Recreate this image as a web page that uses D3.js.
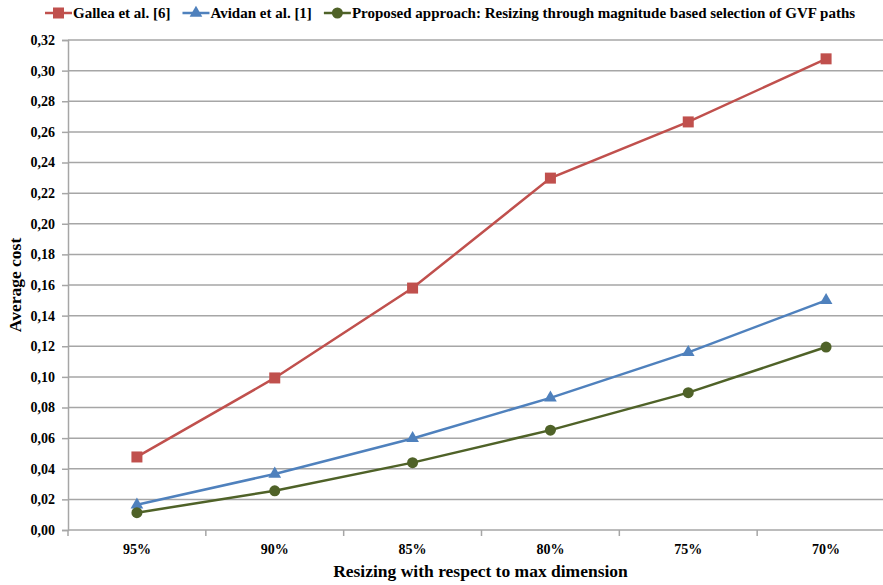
<!DOCTYPE html>
<html>
<head>
<meta charset="utf-8">
<script src="https://cdn.jsdelivr.net/npm/d3@7"></script>
<style>
  html, body { margin: 0; padding: 0; background: #fff; }
  svg { display: block; }
</style>
</head>
<body>
<svg id="chart" width="883" height="585"></svg>
<script>
// Resize ratios along the horizontal axis
const categories = ["95%", "90%", "85%", "80%", "75%", "70%"];

// Average cost per method
const gallea   = [0.0477, 0.0993, 0.1580, 0.2298, 0.2665, 0.3077];
const avidan   = [0.0165, 0.0366, 0.0598, 0.0863, 0.1160, 0.1500];
const proposed = [0.0113, 0.0256, 0.0440, 0.0652, 0.0897, 0.1195];

const yTicks = [0, 0.02, 0.04, 0.06, 0.08, 0.10, 0.12, 0.14, 0.16, 0.18, 0.20, 0.22, 0.24, 0.26, 0.28, 0.30, 0.32];

const seriesNames = ["Gallea et al. [6]", "Avidan et al. [1]", "Proposed approach: Resizing through magnitude based selection of GVF paths"];

const series = [
  { name: seriesNames[0], values: gallea,   color: "#C0504D", marker: "square" },
  { name: seriesNames[1], values: avidan,   color: "#4F81BD", marker: "triangle" },
  { name: seriesNames[2], values: proposed, color: "#4F6228", marker: "circle" }
];

const FONT = "Liberation Serif";
const GRID = "#A6A6A6";

// every label uses the same bold serif face
function styleText(sel, size) {
  return sel.attr("font-family", FONT)
    .attr("font-weight", "bold")
    .attr("font-size", size)
    .attr("fill", "#000");
}

const svg = d3.select("#chart");

// the plot runs slightly past the right edge of the canvas
const plotLeft = 68, plotRight = 895;
const plotTop = 40, plotBottom = 530;

const x = d3.scaleBand().domain(categories).range([plotLeft, plotRight]);
const y = d3.scaleLinear().domain([0, 0.32]).range([plotBottom, plotTop]);

const fmt = v => d3.format(".2f")(v).replace(".", ",");

// Horizontal gridlines
svg.append("g")
  .selectAll("line")
  .data(yTicks.filter(d => d > 0))
  .join("line")
  .attr("x1", plotLeft).attr("x2", plotRight)
  .attr("y1", d => y(d)).attr("y2", d => y(d))
  .attr("stroke", GRID).attr("stroke-width", 1.5);

// Y axis
const yAxis = svg.append("g")
  .attr("transform", `translate(${plotLeft},0)`)
  .call(d3.axisLeft(y).tickValues(yTicks).tickFormat(fmt).tickSize(6).tickPadding(7));
yAxis.select(".domain").attr("stroke", GRID).attr("stroke-width", 1.5);
yAxis.selectAll(".tick line").attr("stroke", GRID).attr("stroke-width", 1.5);
styleText(yAxis.selectAll(".tick text"), 14);

// X axis: tick marks sit on category boundaries
const xAxisG = svg.append("g").attr("transform", `translate(0,${plotBottom})`);
xAxisG.append("line")
  .attr("x1", plotLeft).attr("x2", plotRight)
  .attr("stroke", GRID).attr("stroke-width", 1.5);
const boundaries = categories.map(c => x(c)).concat([x(categories[categories.length - 1]) + x.bandwidth()]);
xAxisG.selectAll("line.tk")
  .data(boundaries)
  .join("line")
  .attr("class", "tk")
  .attr("x1", d => d).attr("x2", d => d)
  .attr("y1", 0).attr("y2", 6)
  .attr("stroke", GRID).attr("stroke-width", 1.5);
styleText(xAxisG.selectAll("text")
  .data(categories)
  .join("text")
  .attr("x", d => x(d) + x.bandwidth() / 2)
  .attr("y", 24)
  .attr("text-anchor", "middle")
  .text(d => d), 14);

// Axis titles
styleText(svg.append("text")
  .attr("x", 480.5)
  .attr("y", 577)
  .attr("text-anchor", "middle")
  .text("Resizing with respect to max dimension"), 17.5);

styleText(svg.append("text")
  .attr("transform", `translate(21,${(plotTop + plotBottom) / 2}) rotate(-90)`)
  .attr("text-anchor", "middle")
  .text("Average cost"), 17.5);

// Markers
function drawMarker(g, type, color) {
  if (type === "square") {
    g.append("rect").attr("x", -5.5).attr("y", -5.5).attr("width", 11).attr("height", 11).attr("fill", color);
  } else if (type === "triangle") {
    g.append("path").attr("d", d3.symbol(d3.symbolTriangle, 70)()).attr("fill", color);
  } else {
    g.append("circle").attr("r", 5.5).attr("fill", color);
  }
}

const cx = c => x(c) + x.bandwidth() / 2;
const line = d3.line().x((d, i) => cx(categories[i])).y(d => y(d));

series.forEach(s => {
  svg.append("path")
    .datum(s.values)
    .attr("d", line)
    .attr("fill", "none")
    .attr("stroke", s.color)
    .attr("stroke-width", 2.5);
  s.values.forEach((v, i) => {
    const g = svg.append("g").attr("transform", `translate(${cx(categories[i])},${y(v)})`);
    drawMarker(g, s.marker, s.color);
  });
});

// Legend
const legend = svg.append("g").attr("transform", "translate(45,13)");
let lx = 0;
series.forEach(s => {
  const item = legend.append("g").attr("transform", `translate(${lx},0)`);
  item.append("line").attr("x1", 0).attr("x2", 27).attr("y1", 0).attr("y2", 0)
    .attr("stroke", s.color).attr("stroke-width", 2.5);
  const m = item.append("g").attr("transform", "translate(13.5,0)");
  drawMarker(m, s.marker, s.color);
  const t = styleText(item.append("text").attr("x", 28).attr("y", 5).text(s.name), 15);
  lx += 28 + t.node().getComputedTextLength() + 12;
});
</script>
</body>
</html>
